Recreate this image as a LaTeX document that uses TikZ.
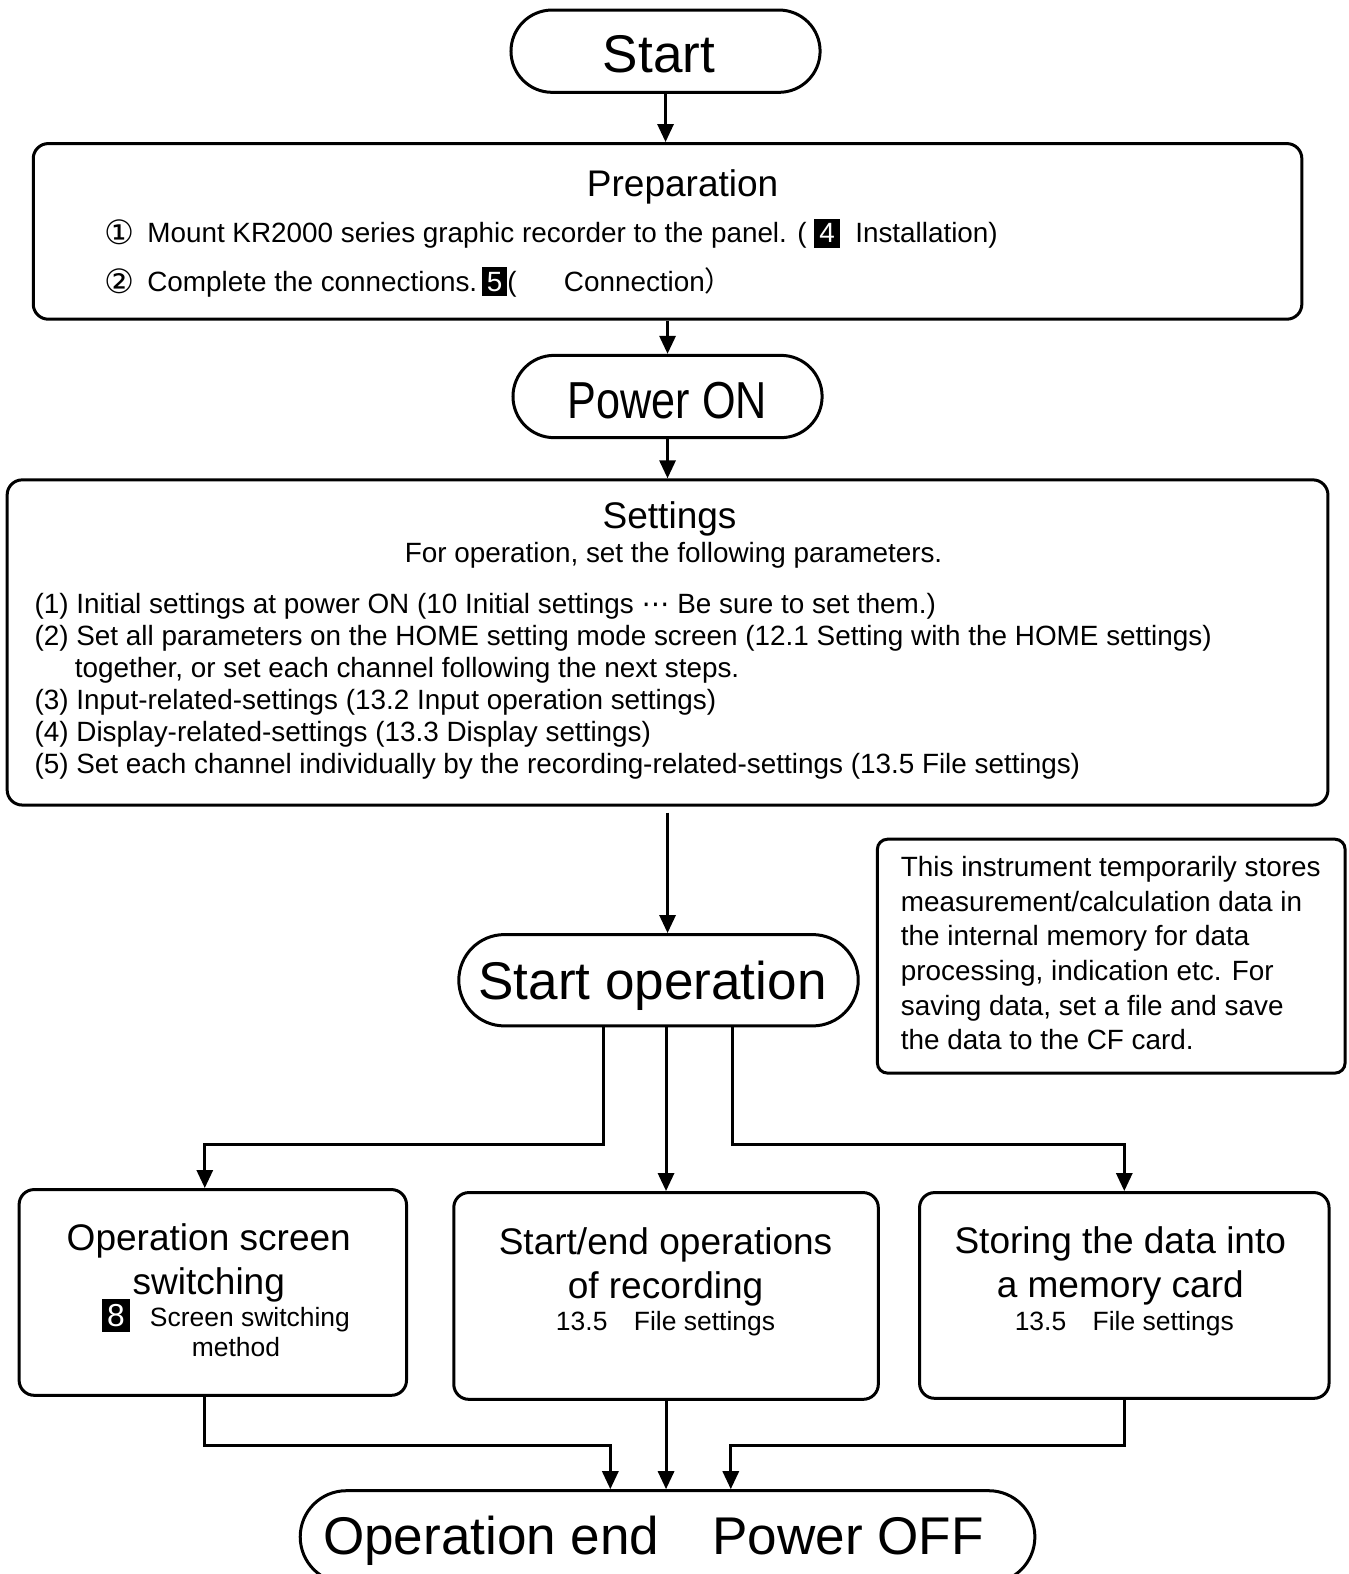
\documentclass[tikz,border=0pt]{standalone}
\usepackage{fontspec}
\setmainfont{Liberation Sans}
\newfontfamily\narrowfont{Liberation Sans}[FakeStretch=0.83]
\newfontfamily\symfont{DejaVu Sans}
\newfontfamily\cjkfont{Noto Sans CJK JP}
\usetikzlibrary{arrows.meta,positioning}
\newcommand{\blk}[1]{{\setlength{\fboxsep}{2.8pt}\colorbox{black}{\textcolor{white}{#1}}}}
\newcommand{\blkbig}[1]{{\setlength{\fboxsep}{3pt}\colorbox{black}{\textcolor{white}{\fontsize{18}{20}\selectfont #1}}}}
\newcommand{\circnum}[1]{\raisebox{-1.2pt}{\symfont\fontsize{19}{20}\selectfont #1}}

\begin{document}
\begin{tikzpicture}[x=0.02cm, y=-0.02cm, line width=1.7pt,
  lbl/.style={inner sep=0pt, text depth=0pt},
  big/.style={lbl, text height=21.5pt, font=\fontsize{30.1}{32}\selectfont},
  head/.style={lbl, text height=15pt, font=\fontsize{21}{24}\selectfont},
  body/.style={lbl, text height=11.3pt, font=\fontsize{15.8}{18}\selectfont},
  small/.style={lbl, text height=10.7pt, font=\fontsize{15}{17}\selectfont},
  term/.style={draw, minimum height=1.64cm, rounded corners=0.82cm},
  box/.style={draw, rounded corners=0.3cm},
  arr/.style={-{Triangle[width=0.32cm,length=0.36cm]}}
]
\useasboundingbox (0,0) rectangle (1343,1568);

% start and preparation
\node[term, minimum width=6.16cm] (start) at (663,51) {};
\node[big] (startt) at (656.5,53) {Start};
\node[box, minimum width=25.28cm, minimum height=3.5cm] (prep) at (665,230.5) {};
\node[head] (prept) at (680,183) {Preparation};
\node[body, anchor=west] (prep1) at (103,232) {\circnum{①}\ \,Mount KR2000 series graphic recorder to the panel. (\ \blk{4}\ \ Installation)};
\node[body, anchor=west] (prep2) at (103,280) {\circnum{②}\ \,Complete the connections.\,\blk{5}(\hspace{1.7em}Connection{\cjkfont ）}};

\node[term, minimum width=6.16cm] (pon) at (665,395) {};
\node[big, font=\narrowfont\fontsize{29.5}{32}\selectfont] (pont) at (665,398) {Power ON};

% settings
\node[box, minimum width=26.32cm, minimum height=6.48cm] (set) at (665,640) {};
\node[head] (sett) at (667,513) {Settings};
\node[body] (setsub) at (671,550) {For operation, set the following parameters.};
\node[body, anchor=west] (set1) at (33,601) {(1) Initial settings at power ON (10 Initial settings {\symfont ⋯} Be sure to set them.)};
\node[body, anchor=west] (set2) at (33,633) {(2) Set all parameters on the HOME setting mode screen (12.1 Setting with the HOME settings)};
\node[body, anchor=west] (set2b) at (73,665) {together, or set each channel following the next steps.};
\node[body, anchor=west] (set3) at (33,697) {(3) Input-related-settings (13.2 Input operation settings)};
\node[body, anchor=west] (set4) at (33,729) {(4) Display-related-settings (13.3 Display settings)};
\node[body, anchor=west] (set5) at (33,761) {(5) Set each channel individually by the recording-related-settings (13.5 File settings)};

% note
\node[draw, rounded corners=0.2cm, minimum width=9.32cm, minimum height=4.66cm] (note) at (1107,952.5) {};
\foreach \t [count=\i from 0] in {{This instrument temporarily stores}, {measurement/calculation data in}, {the internal memory for data}, {processing, indication etc. For}, {saving data, set a file and save}, {the data to the CF card.}}
  \node[body, anchor=west] (note\i) at (896,863+34.6*\i) {\t};

\node[term, minimum width=7.96cm, minimum height=1.82cm, rounded corners=0.91cm] (sop) at (656,976.5) {};
\node[big] (sopt) at (650,977) {Start operation};

% operations
\node[box, minimum width=7.72cm, minimum height=4.1cm] (scr) at (212,1287.5) {};
\node[head] (scr1) at (208,1233) {Operation screen};
\node[head] (scr2) at (208,1276) {switching};
\node[small] (scr3) at (225,1312) {\blkbig{8}\hspace{0.75em}Screen switching};
\node[small] (scr4) at (235,1342) {method};

\node[box, minimum width=8.46cm, minimum height=4.12cm] (rec) at (663.5,1291) {};
\node[head] (rec1) at (663,1237) {Start/end operations};
\node[head] (rec2) at (663,1280) {of recording};
\node[small] (rec3) at (663,1316) {13.5\hspace{1em}File settings};

\node[box, minimum width=8.16cm, minimum height=4.1cm] (mem) at (1120,1290.5) {};
\node[head] (mem1) at (1116,1236) {Storing the data into};
\node[head] (mem2) at (1116,1279) {a memory card};
\node[small] (mem3) at (1120,1316) {13.5\hspace{1em}File settings};

\node[term, minimum width=14.64cm, minimum height=1.84cm, rounded corners=0.92cm] (fin) at (665,1531) {};
\node[big] (fint) at (651,1530) {Operation end\hspace{1em}Power OFF};

% connectors
\draw[arr] (start) -- (start |- prep.north);
\draw[arr] (prep.south -| pon.north) -- (pon.north);
\draw[arr] (pon) -- (pon |- set.north);
\draw[arr, shorten <=0.12cm] (set.south) -- (set.south |- sop.north);

\coordinate (bl) at (601,1140);
\coordinate (br) at (730,1140);
\draw[arr] (sop.south -| bl) -- (bl) -| ([xshift=-0.16cm]scr.north);
\draw[arr] (sop.south -| rec.north) -- (rec.north);
\draw[arr] (sop.south -| br) -- (br) -| (mem.north);

\coordinate (jl) at (608,1440);
\coordinate (jr) at (728,1440);
\draw[arr] ([xshift=-0.16cm]scr.south) |- (jl) -- (jl |- fin.north);
\draw[arr] (rec.south) -- (rec.south |- fin.north);
\draw[arr] (mem.south) |- (jr) -- (jr |- fin.north);
\end{tikzpicture}
\end{document}
